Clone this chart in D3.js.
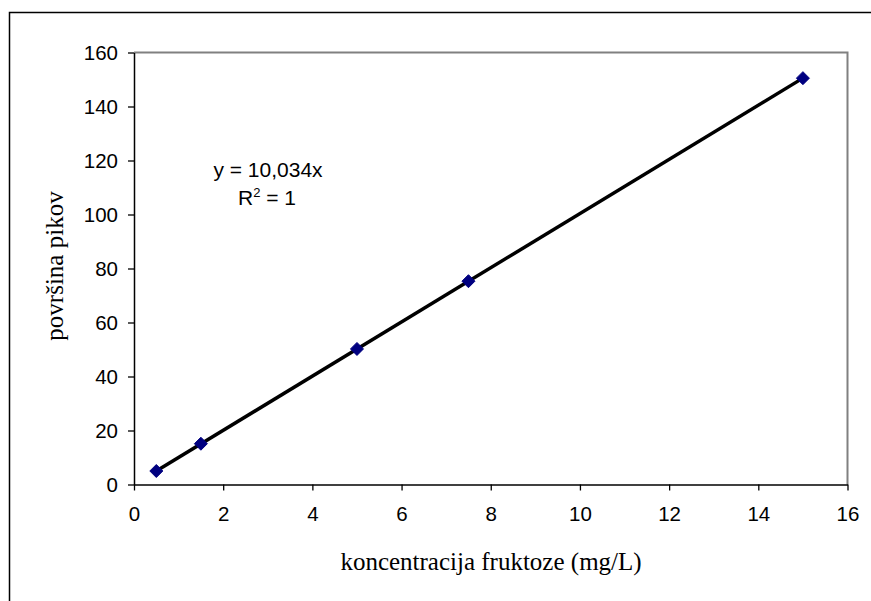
<!DOCTYPE html>
<html>
<head>
<meta charset="utf-8">
<script src="https://cdn.jsdelivr.net/npm/d3@7"></script>
<style>
  body { margin: 0; background: #fff; }
  svg { display: block; }
</style>
</head>
<body>
<div id="chart"></div>
<script>
// Calibration data
const concentrations = [0.5, 1.5, 5, 7.5, 15];
const peakAreas = [5.0, 15.1, 50.2, 75.3, 150.5];
const slope = 10.034;
const xTicks = [0, 2, 4, 6, 8, 10, 12, 14, 16];
const yTicks = [0, 20, 40, 60, 80, 100, 120, 140, 160];
const equationLines = ['y = 10,034x', 'R2 = 1'];

const W = 871, H = 601;
const margin = { top: 52.5, right: 23.5, bottom: 116.5, left: 134 };
const width = W - margin.left - margin.right;
const height = H - margin.top - margin.bottom;

const root = d3.select('#chart').append('svg')
    .attr('width', W)
    .attr('height', H);

// Outer chart frame (cropped at right and bottom)
root.append('path')
    .attr('d', `M9.5,${H} V12.5 H${W}`)
    .attr('fill', 'none')
    .attr('stroke', '#000')
    .attr('stroke-width', 1.5);

const svg = root.append('g')
    .attr('transform', `translate(${margin.left},${margin.top})`);

const x = d3.scaleLinear().domain([0, 16]).range([0, width]);
const y = d3.scaleLinear().domain([0, 160]).range([height, 0]);

// Plot border top/right in gray
svg.append('path')
    .attr('d', `M0,0 H${width} V${height}`)
    .attr('fill', 'none')
    .attr('stroke', '#808080')
    .attr('stroke-width', 2);

// Axes
const xAxis = svg.append('g')
    .attr('transform', `translate(0,${height})`)
    .call(d3.axisBottom(x).tickValues(xTicks).tickSize(6).tickPadding(16).tickSizeOuter(0));
const yAxis = svg.append('g')
    .call(d3.axisLeft(y).tickValues(yTicks).tickSize(6).tickPadding(10).tickSizeOuter(0));

[xAxis, yAxis].forEach(a => {
    a.select('.domain').attr('stroke', '#000').attr('stroke-width', 1.5);
    a.selectAll('.tick line').attr('stroke', '#000').attr('stroke-width', 1.3);
    a.selectAll('.tick text')
        .attr('fill', '#000')
        .style('font-family', '"Liberation Sans", Arial, sans-serif')
        .style('font-size', '20.5px');
});

// Trendline
const trend = [concentrations[0], concentrations[concentrations.length - 1]].map(c => ({ x: c, y: slope * c }));
svg.append('path')
    .datum(trend)
    .attr('fill', 'none')
    .attr('stroke', '#000')
    .attr('stroke-width', 3.5)
    .attr('d', d3.line().x(d => x(d.x)).y(d => y(d.y)));

// Markers
svg.selectAll('.pt')
    .data(concentrations.map((c, i) => ({ x: c, y: peakAreas[i] })))
    .enter().append('path')
    .attr('class', 'pt')
    .attr('transform', d => `translate(${x(d.x)},${y(d.y)})`)
    .attr('d', 'M0,-6.5 L6.5,0 L0,6.5 L-6.5,0 Z')
    .attr('fill', '#000080')
    .attr('stroke', '#000080')
    .attr('stroke-width', 1);

// Equation
const eq = svg.append('g')
    .style('font-family', '"Liberation Sans", Arial, sans-serif')
    .style('font-size', '21px')
    .attr('text-anchor', 'middle');
eq.append('text')
    .attr('x', 268 - margin.left)
    .attr('y', 176.5 - margin.top)
    .text(equationLines[0]);
const r2 = eq.append('text')
    .attr('x', 267 - margin.left)
    .attr('y', 205 - margin.top);
r2.append('tspan').text('R');
r2.append('tspan').attr('font-size', '13px').attr('dy', -8).text('2');
r2.append('tspan').attr('dy', 8).text(' = 1');

// Axis titles
root.append('text')
    .attr('x', 491)
    .attr('y', 570)
    .attr('text-anchor', 'middle')
    .style('font-family', '"Liberation Serif", "Times New Roman", serif')
    .style('font-size', '25px')
    .text('koncentracija fruktoze (mg/L)');

root.append('text')
    .attr('transform', 'translate(63,266) rotate(-90)')
    .attr('text-anchor', 'middle')
    .style('font-family', '"Liberation Serif", "Times New Roman", serif')
    .style('font-size', '25px')
    .text('površina pikov');
</script>
</body>
</html>
